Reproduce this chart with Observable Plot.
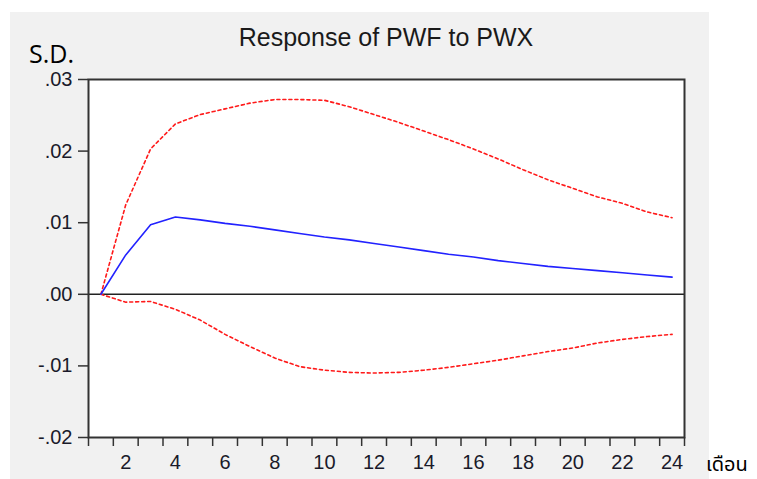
<!DOCTYPE html>
<html>
<head>
<meta charset="utf-8">
<script src="https://cdn.jsdelivr.net/npm/d3@7"></script>
<script src="https://cdn.jsdelivr.net/npm/@observablehq/plot@0.6"></script>
<style>
  html, body { margin: 0; padding: 0; background: #ffffff; }
  #wrap { position: relative; width: 757px; height: 479px; overflow: hidden; }
  #panel { position: absolute; left: 10px; top: 12px; width: 699px; height: 467px; background: #f1f1f1; }
  #chart { position: absolute; left: 0; top: 0; }
  .lbl { position: absolute; white-space: nowrap; line-height: 1; }
  #title { left: 88px; width: 596px; text-align: center; top: 23px; font: 25px "Liberation Sans", Arial, sans-serif; color: #1a1a1a; }
  #sd { left: 29px; top: 36px; font: 25px "Open Sans", "Noto Sans", sans-serif; color: #000; }
  #month { left: 706px; top: 450px; font: 20px "Noto Sans Thai", "Noto Sans", "DejaVu Sans", sans-serif; color: #000; }
</style>
</head>
<body>
<div id="wrap">
  <div id="panel"></div>
  <div id="chart"></div>
  <div class="lbl" id="title">Response of PWF to PWX</div>
  <div class="lbl" id="sd">S.D.</div>
  <div class="lbl" id="month">เดือน</div>
</div>
<script>
// Data
const periods = [1,2,3,4,5,6,7,8,9,10,11,12,13,14,15,16,17,18,19,20,21,22,23,24];
const response = [0, 0.0055, 0.0097, 0.0108, 0.0104, 0.0099, 0.0095, 0.0090, 0.0085, 0.0080, 0.0076, 0.0071, 0.0066, 0.0061, 0.0056, 0.0052, 0.0047, 0.0043, 0.0039, 0.0036, 0.0033, 0.0030, 0.0027, 0.0024];
const upperBand = [0, 0.0125, 0.0203, 0.0238, 0.0251, 0.0259, 0.0267, 0.0272, 0.0272, 0.0271, 0.0262, 0.0251, 0.0240, 0.0228, 0.0216, 0.0203, 0.0189, 0.0174, 0.0160, 0.0148, 0.0136, 0.0127, 0.0115, 0.0107];
const lowerBand = [0, -0.0011, -0.0010, -0.0021, -0.0036, -0.0056, -0.0073, -0.0089, -0.0101, -0.0106, -0.0109, -0.0110, -0.0109, -0.0106, -0.0102, -0.0097, -0.0092, -0.0086, -0.0080, -0.0075, -0.0068, -0.0063, -0.0059, -0.0056];
const yTicks = [-0.02, -0.01, 0, 0.01, 0.02, 0.03];
const xLabelTicks = [2,4,6,8,10,12,14,16,18,20,22,24];
const xTickMarks = [0.5,1.5,2.5,3.5,4.5,5.5,6.5,7.5,8.5,9.5,10.5,11.5,12.5,13.5,14.5,15.5,16.5,17.5,18.5,19.5,20.5,21.5,22.5,23.5,24.5];

const rows = (vals) => periods.map((p, i) => ({period: p, value: vals[i]}));
const fmtY = (d) => d3.format(".2f")(d).replace("\u2212", "-").replace("0.", ".");

const chart = Plot.plot({
  width: 757,
  height: 479,
  marginLeft: 88,
  marginRight: 73,
  marginTop: 79,
  marginBottom: 42,
  style: {background: "transparent", fontFamily: "'Liberation Sans', Arial, sans-serif", fontSize: "20px", color: "#1a1a2a"},
  x: {domain: [0.5, 24.5], axis: null},
  y: {domain: [-0.02, 0.03], axis: null},
  marks: [
    Plot.frame({fill: "white", stroke: null}),
    Plot.axisY({ticks: yTicks, tickFormat: fmtY, tickSize: 10, tickPadding: 6, stroke: "#333", strokeWidth: 1.5, fontSize: 20, label: null}),
    Plot.axisX({ticks: xTickMarks, tickFormat: () => "", tickSize: 9, stroke: "#333", strokeWidth: 1.5, label: null}),
    Plot.axisX({ticks: xLabelTicks, tickSize: 0, tickPadding: 17, fontSize: 20, label: null}),
    Plot.ruleY([0], {stroke: "#222", strokeWidth: 1.5}),
    Plot.line(rows(upperBand), {x: "period", y: "value", stroke: "#ff1a1a", strokeWidth: 1.6, strokeDasharray: "3,3"}),
    Plot.line(rows(lowerBand), {x: "period", y: "value", stroke: "#ff1a1a", strokeWidth: 1.6, strokeDasharray: "3,3"}),
    Plot.line(rows(response), {x: "period", y: "value", stroke: "#2222ff", strokeWidth: 1.6}),
    Plot.frame({stroke: "#333", strokeWidth: 2})
  ]
});
document.getElementById("chart").appendChild(chart);
</script>
</body>
</html>
